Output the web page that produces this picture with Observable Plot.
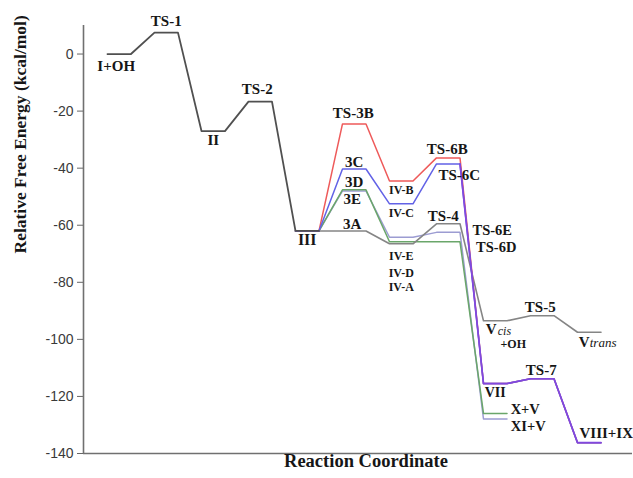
<!DOCTYPE html>
<html>
<head>
<meta charset="utf-8">
<script src="https://cdn.jsdelivr.net/npm/d3@7"></script>
<script src="https://cdn.jsdelivr.net/npm/@observablehq/plot@0.6"></script>
<style>
  html, body { margin: 0; padding: 0; background: #fff; }
</style>
</head>
<body>
<div id="chart"></div>
<script>
// ---- Data (kcal/mol), one energy per reaction stage ----
const mainStart = 0;
const mainEnergies = [0, 7.5, -27, -16.7, -62];           // I+OH, TS-1, II, TS-2, III
const branchStart = 4;
const path3B = [-62, -24.5, -44.5, -36.4, -115.5, -113.8, -136.2]; // III, TS-3B, IV-B, TS-6B, VII, TS-7, VIII+IX
const path3C = [-62, -40.3, -52.5, -38.5, -115.5, -113.8, -136.2]; // III, 3C, IV-C, TS-6C, VII, TS-7, VIII+IX
const path3D = [-62, -47.6, -65.8, -65.8, -126];                   // III, 3D, IV-D, TS-6D, X+V
const path3E = [-62, -48.0, -64.2, -62.5, -127.9];                 // III, 3E, IV-E, TS-6E, XI+V
const path3A = [-62, -62, -66.5, -59.5, -93.5, -91.7, -97.5];      // III, 3A, IV-A, TS-4, Vcis+OH, TS-5, Vtrans
const yTicks = [0, -20, -40, -60, -80, -100, -120, -140];

// labels: id, text, path, stage
const labels = [
  ["I+OH", "I+OH", "main", 0], ["TS-1", "TS-1", "main", 1], ["II", "II", "main", 2],
  ["TS-2", "TS-2", "main", 3], ["III", "III", "main", 4],
  ["TS-3B", "TS-3B", "3B", 5], ["3C", "3C", "3C", 5], ["3D", "3D", "3D", 5],
  ["3E", "3E", "3E", 5], ["3A", "3A", "3A", 5],
  ["IV-B", "IV-B", "3B", 6], ["IV-C", "IV-C", "3C", 6], ["IV-E", "IV-E", "3E", 6],
  ["IV-D", "IV-D", "3D", 6], ["IV-A", "IV-A", "3A", 6],
  ["TS-6B", "TS-6B", "3B", 7], ["TS-6C", "TS-6C", "3C", 7], ["TS-4", "TS-4", "3A", 7],
  ["TS-6E", "TS-6E", "3E", 7], ["TS-6D", "TS-6D", "3D", 7],
  ["Vcis-V", "V", "3A", 8], ["Vcis-sub", "cis", "3A", 8], ["Vcis-OH", "+OH", "3A", 8],
  ["TS-5", "TS-5", "3A", 9], ["Vtrans-V", "V", "3A", 10], ["Vtrans-sub", "trans", "3A", 10],
  ["VII", "VII", "3C", 8], ["TS-7", "TS-7", "3C", 9], ["X+V", "X+V", "3D", 8],
  ["XI+V", "XI+V", "3E", 8], ["VIII+IX", "VIII+IX", "3C", 10]
];

// ---- Layout / style (kept apart from data) ----
const layout = {
  "I+OH": {dx: -3, dy: 12}, "TS-1": {dx: 0, dy: -11}, "II": {dx: 0, dy: 9},
  "TS-2": {dx: -3, dy: -12}, "III": {dx: 0, dy: 9, size: 16},
  "TS-3B": {dx: -1, dy: -11}, "3C": {dx: 0, dy: -7}, "3D": {dx: 0, dy: -7.5},
  "3E": {dx: -2, dy: 8}, "3A": {dx: -2, dy: -7},
  "IV-B": {dx: 0, dy: 9.5, size: 12}, "IV-C": {dx: 0, dy: 9.5, size: 12},
  "IV-E": {dx: 0, dy: 18.6, size: 12}, "IV-D": {dx: 0, dy: 31, size: 12}, "IV-A": {dx: 0, dy: 43, size: 12},
  "TS-6B": {dx: -1, dy: -8.5}, "TS-6C": {dx: 11, dy: 11}, "TS-4": {dx: -5, dy: -8},
  "TS-6E": {dx: 44, dy: -2, size: 14.5}, "TS-6D": {dx: 48, dy: 6, size: 14.5},
  "Vcis-V": {dx: -4, dy: 8, size: 15}, "Vcis-sub": {dx: 2.5, dy: 10, size: 12, italic: true, anchor: "start"},
  "Vcis-OH": {dx: 18, dy: 23, size: 12},
  "TS-5": {dx: -2, dy: -8}, "Vtrans-V": {dx: -5, dy: 10},
  "Vtrans-sub": {dx: 0.5, dy: 11, size: 13, italic: true, anchor: "start"},
  "VII": {dx: 0, dy: 9, size: 14}, "TS-7": {dx: -1, dy: -9},
  "X+V": {dx: 30, dy: -4, size: 14.5}, "XI+V": {dx: 33, dy: 7, size: 14.5}, "VIII+IX": {dx: 17, dy: -9}
};

const paths = {
  main: {start: mainStart, e: mainEnergies, color: "#505050", w: 1.8},
  "3E": {start: branchStart, e: path3E, color: "#9c9cd2", w: 1.5},
  "3D": {start: branchStart, e: path3D, color: "#6aa66a", w: 1.5},
  "3A": {start: branchStart, e: path3A, color: "#858585", w: 1.6},
  "3B": {start: branchStart, e: path3B, color: "#ee5a5a", w: 1.5},
  "3C": {start: branchStart, e: path3C, color: "#6262e6", w: 1.5}
};
const drawOrder = ["3E", "3D", "3A", "3B", "3C", "main"];
const PLATEAU = 0.5;
const XMIN = -0.51, XMAX = 11.17, YMIN = -140, YMAX = 10;

function level(p, stage) { return paths[p].e[stage - paths[p].start]; }
function points(p) {
  const P = paths[p], out = [];
  P.e.forEach((E, i) => { out.push({x: P.start + i, y: E}); out.push({x: P.start + i + PLATEAU, y: E}); });
  return out;
}

const lineMarks = drawOrder.map(p => Plot.line(points(p), {
  x: "x", y: "y", stroke: paths[p].color, strokeWidth: paths[p].w, strokeLinejoin: "round"
}));
// where 3B and 3C coincide, the overlapping red+blue lines read as purple
const overlap = Plot.line(points("3C").filter(d => d.x >= 7 + PLATEAU), {
  x: "x", y: "y", stroke: "#8148de", strokeWidth: 1.7
});

const labelMarks = labels.map(([id, text, p, stage]) => {
  const L = layout[id];
  return Plot.text([{x: stage + PLATEAU / 2, y: level(p, stage), text}], {
    x: "x", y: "y", text: "text", dx: L.dx, dy: L.dy,
    fontSize: L.size || 15, textAnchor: L.anchor || "middle",
    fontStyle: L.italic ? "italic" : "normal", fontWeight: L.italic ? "normal" : "bold",
    fontFamily: "Liberation Serif", fill: "#161616"
  });
});

const chart = Plot.plot({
  width: 633, height: 478,
  marginLeft: 83, marginRight: 1, marginTop: 25, marginBottom: 25,
  x: {domain: [XMIN, XMAX], axis: null},
  y: {domain: [YMIN, YMAX], axis: null},
  style: {background: "#fff"},
  marks: [
    Plot.axisY({ticks: yTicks, tickSize: 6, tickPadding: 4, tickFormat: d => String(d),
      fontSize: 14, fontFamily: "Liberation Sans", stroke: "#666", fill: "#3a3a3a", label: null}),
    Plot.ruleX([XMIN], {y1: YMIN, y2: YMAX, stroke: "#707070", strokeWidth: 1.6}),
    Plot.ruleY([YMIN], {stroke: "#707070", strokeWidth: 1.6}),
    ...lineMarks,
    overlap,
    ...labelMarks,
    Plot.text(["Relative Free Energy (kcal/mol)"], {frameAnchor: "left", rotate: -90, dx: -63, dy: 14,
      fontSize: 17.5, fontWeight: "bold", fontFamily: "Liberation Serif", fill: "#161616"}),
    Plot.text(["Reaction Coordinate"], {frameAnchor: "bottom", dx: 8, dy: 13,
      fontSize: 18.5, fontWeight: "bold", fontFamily: "Liberation Serif", fill: "#161616"})
  ]
});
document.getElementById("chart").appendChild(chart);
</script>
</body>
</html>
